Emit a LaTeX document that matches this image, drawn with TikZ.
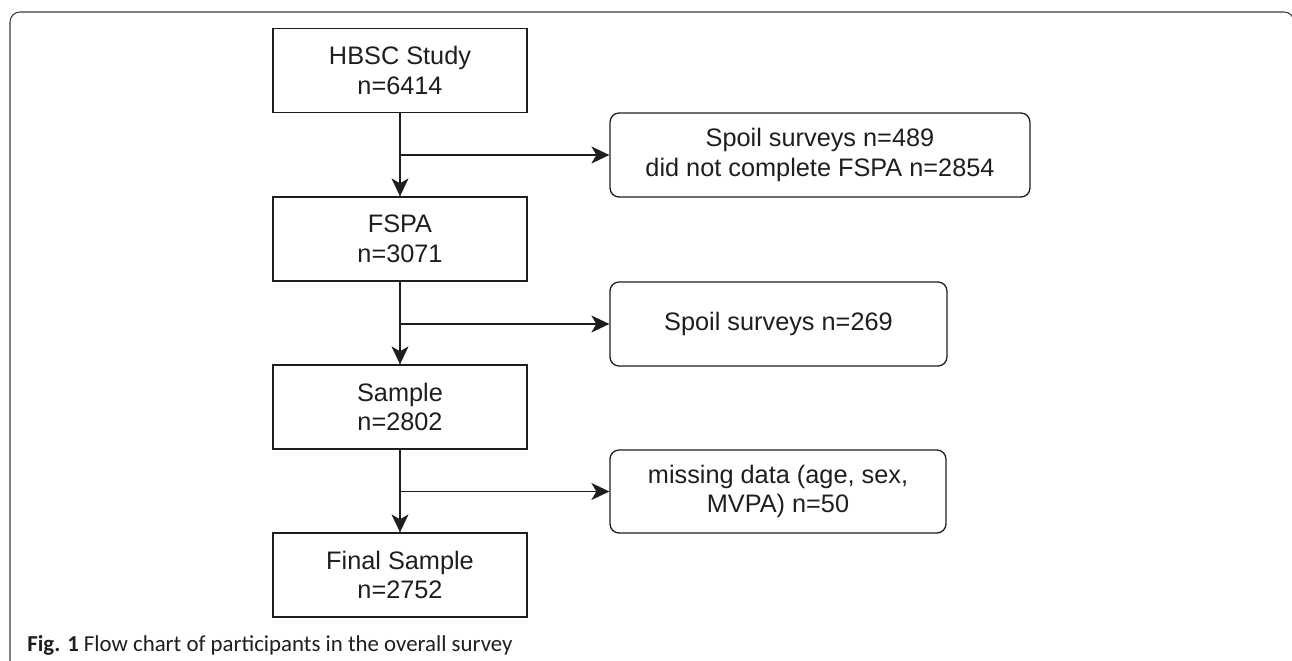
\documentclass[tikz,border=0pt]{standalone}
\usepackage{fontspec}
\setmainfont{Liberation Sans}
\newfontfamily\captionfont{Carlito}
\usepackage{xcolor}
\usepackage{tikz}
\usetikzlibrary{arrows.meta,positioning}
\definecolor{inkgray}{HTML}{1E1E1E}
\definecolor{framegray}{HTML}{3A3A3A}

\tikzset{
    flowbox/.style={draw=inkgray,line width=0.75pt,rectangle,align=center,
        minimum width=5.08cm,minimum height=1.68cm,inner sep=0pt,
        text=inkgray,font=\fontsize{14.4pt}{17pt}\selectfont},
    dropbox/.style={flowbox,rounded corners=0.18cm},
    flowarrow/.style={draw=inkgray,line width=0.75pt,
        -{Stealth[length=0.36cm,width=0.34cm,inset=0.1cm]}}
}

\begin{document}
\begin{tikzpicture}[x=0.02cm,y=-0.02cm]
    \useasboundingbox (0,0) rectangle (1292,660);
    \clip (0,0) rectangle (1292,660);

    % Outer frame (cut off at right and bottom)
    \draw[framegray,line width=0.6pt,rounded corners=0.2cm] (10,720) -- (10,12) -- (1294,12) -- (1294,720);

    % Main column
    \node[flowbox] (hbsc) at (400,70.5) {HBSC Study\\n=6414};
    \node[flowbox] (fspa) at (400,239) {FSPA\\n=3071};
    \node[flowbox] (sample) at (400,407) {Sample\\n=2802};
    \node[flowbox] (final) at (400,575) {Final Sample\\n=2752};

    % Excluded
    \node[dropbox,minimum width=8.4cm] (spoilA) at (820,155) {Spoil surveys n=489\\did not complete FSPA n=2854};
    \node[dropbox,minimum width=6.74cm] (spoilB) at (778.5,324) {Spoil surveys n=269};
    \node[dropbox,minimum width=6.72cm,minimum height=1.66cm] (missing) at (778,491.5) {missing data (age, sex,\\MVPA) n=50};

    % Arrows down
    \draw[flowarrow] (hbsc) -- (fspa);
    \draw[flowarrow] (fspa) -- (sample);
    \draw[flowarrow] (sample) -- (final);

    % Arrows right
    \draw[flowarrow] (hbsc.south |- spoilA.west) -- (spoilA.west);
    \draw[flowarrow] (fspa.south |- spoilB.west) -- (spoilB.west);
    \draw[flowarrow] (sample.south |- missing.west) -- (missing.west);

    % Caption
    \node[anchor=base west,inner sep=0pt,text=inkgray,font=\captionfont\fontsize{13pt}{16pt}\selectfont] (caption) at (27,651)
        {\textbf{Fig. 1} Flow chart of participants in the overall survey};
\end{tikzpicture}
\end{document}
